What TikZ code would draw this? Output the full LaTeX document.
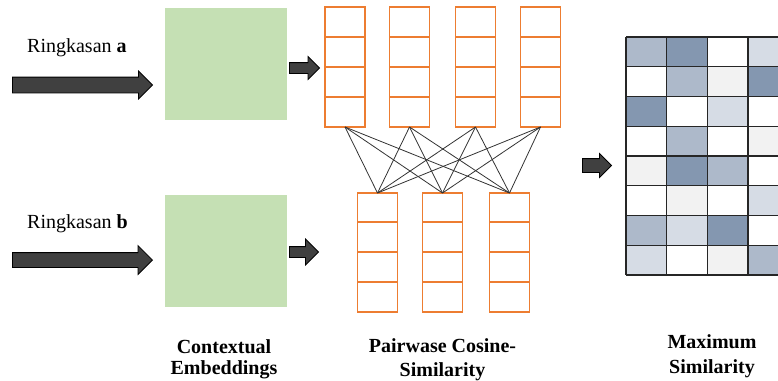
\documentclass[tikz,border=0pt]{standalone}
\usepackage{fontspec}
\setmainfont{Liberation Serif}
\usetikzlibrary{shapes.arrows}
\definecolor{embgreen}{HTML}{C5E0B4}
\definecolor{vecorange}{HTML}{ED7D31}
\definecolor{cdark}{HTML}{8497B0}
\definecolor{cmed}{HTML}{ADB9CA}
\definecolor{clight}{HTML}{D6DCE5}
\definecolor{cvlight}{HTML}{F2F2F2}
\begin{document}
\begin{tikzpicture}[x=1pt,y=-1pt,
  vec/.style={draw=vecorange, line width=1.8pt, minimum width=40pt, minimum height=120pt, inner sep=0pt, outer sep=0pt},
  rowline/.style={draw=vecorange, line width=1.8pt},
  emb/.style={fill=embgreen, minimum width=122pt, minimum height=112pt, inner sep=0pt},
  blockarrow/.style={single arrow, draw=black, line width=0.8pt, fill=black!75, inner xsep=0pt, single arrow head indent=0pt},
  conn/.style={draw=black!80, line width=0.8pt},
  cellline/.style={draw=black!85, line width=1.4pt},
  txt/.style={font=\fontsize{20}{24}\selectfont, inner sep=0pt},
  lbl/.style={font=\fontsize{20}{24.5}\selectfont\bfseries, align=center, inner sep=0pt},
]
\useasboundingbox (0,0) rectangle (778,380);
\clip (0,0) rectangle (778,380);

% input texts
\node[txt, anchor=base west] (ra) at (27,52) {Ringkasan \textbf{a}};
\node[txt, anchor=base west] (rb) at (27,228) {Ringkasan \textbf{b}};

% big input arrows
\node[blockarrow, minimum height=140pt, inner ysep=7.5pt, single arrow head extend=6pt, anchor=tip] (ina) at (153,85) {};
\node[blockarrow, minimum height=140pt, inner ysep=7pt, single arrow head extend=7pt, anchor=tip] (inb) at (153,260) {};

% contextual embeddings
\node[emb] (ea) at (226,64) {};
\node[emb] (eb) at (226,251) {};

% small arrows
\node[blockarrow, minimum height=30pt, inner ysep=5pt, single arrow head extend=6pt, anchor=tip] (sa) at (320,68) {};
\node[blockarrow, minimum height=29pt, inner ysep=5pt, single arrow head extend=7.5pt, anchor=tip] (sb) at (319,252) {};

% vectors and cross connections
\foreach \a/\x in {t1/345,t2/409.5,t3/475.5,t4/540.5}{
  \node[vec] (\a) at (\x,67) {};
}
\foreach \b/\x in {b1/377.5,b2/442.5,b3/509.5}{
  \node[vec, minimum height=119pt] (\b) at (\x,252.5) {};
}
\foreach \a in {t1,t2,t3,t4}{
  \foreach \b in {b1,b2,b3}{
    \draw[conn] (\a.south) -- (\b.north);
  }
}
\foreach \n in {t1,t2,t3,t4,b1,b2,b3}{
  \foreach \k in {30,60,90}{
    \draw[rowline] ([yshift=\k pt]\n.south west) -- ([yshift=\k pt]\n.south east);
  }
}

% right arrow
\node[blockarrow, minimum height=29pt, inner ysep=6.5pt, single arrow head extend=5pt, anchor=tip] (ra2) at (612,165.5) {};

% similarity matrix
\foreach \r [count=\j from 0] in {
  {cmed,cdark,white,clight},
  {white,cmed,cvlight,cdark},
  {cdark,white,clight,white},
  {white,cmed,white,cvlight},
  {cvlight,cdark,cmed,white},
  {white,cvlight,white,clight},
  {cmed,clight,cdark,white},
  {clight,white,cvlight,cmed}}{
  \foreach \c [count=\i from 0] in \r {
    \fill[\c] (626+\i*40.7, 37+\j*29.75) rectangle ++(40.7,29.75);
  }
}
\foreach \j in {0,...,8}{
  \draw[cellline] (626,37+\j*29.75) -- (790,37+\j*29.75);
}
\foreach \i in {0,...,3}{
  \draw[cellline] (626+\i*40.7,37) -- (626+\i*40.7,275);
}

% stage labels (base = last line)
\node[lbl, anchor=base] (lce) at (224,374.5) {Contextual\\[-3pt]Embeddings};
\node[lbl, anchor=base] (lpc) at (442.5,376) {Pairwase Cosine-\\[-1pt]Similarity};
\node[lbl, anchor=base] (lms) at (712,373) {Maximum\\Similarity};
\end{tikzpicture}
\end{document}
